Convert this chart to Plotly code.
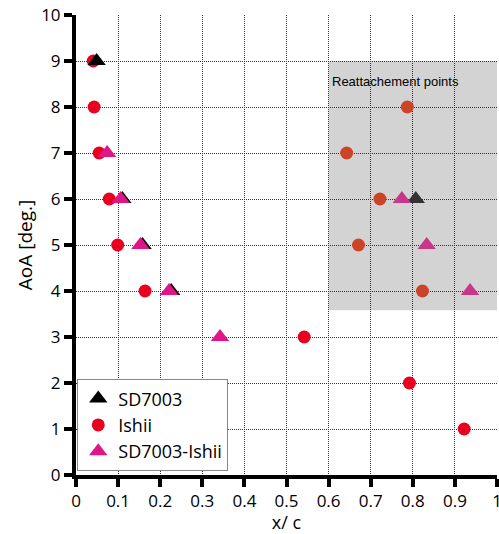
import plotly.graph_objects as go

# Data
# Separation points (white area)
sd7003_x = [0.049, 0.110, 0.158, 0.226]
sd7003_y = [9, 6, 5, 4]
ishii_x = [0.041, 0.043, 0.055, 0.079, 0.099, 0.164, 0.542, 0.792, 0.922]
ishii_y = [9, 8, 7, 6, 5, 4, 3, 2, 1]
sdi_x = [0.074, 0.106, 0.153, 0.221, 0.342]
sdi_y = [7, 6, 5, 4, 3]

# Reattachment points (grey box)
sd7003_re_x = [0.807]
sd7003_re_y = [6]
ishii_re_x = [0.787, 0.643, 0.722, 0.671, 0.823]
ishii_re_y = [8, 7, 6, 5, 4]
sdi_re_x = [0.774, 0.833, 0.936]
sdi_re_y = [6, 5, 4]

region_x = [0.6, 1.0]
region_y = [3.58, 9.0]
region_label = "Reattachement points"

x_ticks = [round(0.1 * i, 1) for i in range(11)]
x_ticktext = ["0"] + [f"{v:g}" for v in x_ticks[1:-1]] + ["1"]
y_ticks = list(range(11))

RED = "#e8001e"
PINK = "#e0158a"
RED_RE = "#cc4428"
PINK_RE = "#c8388a"
BLACK_RE = "#333333"
FONT = "Open Sans"

fig = go.Figure()
fig.add_shape(type="rect", xref="x", yref="y",
              x0=region_x[0], x1=region_x[1], y0=region_y[0], y1=region_y[1],
              fillcolor="#d3d3d3", line=dict(width=0), layer="below")

fig.add_trace(go.Scatter(x=ishii_x, y=ishii_y, mode="markers", name="Ishii",
                         marker=dict(symbol="circle", size=13, color=RED),
                         legendrank=2, cliponaxis=False))
fig.add_trace(go.Scatter(x=sd7003_x, y=sd7003_y, mode="markers", name="SD7003",
                         marker=dict(symbol="triangle-up", size=16, color="black"),
                         legendrank=1, cliponaxis=False))
fig.add_trace(go.Scatter(x=sdi_x, y=sdi_y, mode="markers", name="SD7003-Ishii",
                         marker=dict(symbol="triangle-up", size=16, color=PINK),
                         legendrank=3, cliponaxis=False))
fig.add_trace(go.Scatter(x=ishii_re_x, y=ishii_re_y, mode="markers", showlegend=False,
                         marker=dict(symbol="circle", size=13, color=RED_RE)))
fig.add_trace(go.Scatter(x=sd7003_re_x, y=sd7003_re_y, mode="markers", showlegend=False,
                         marker=dict(symbol="triangle-up", size=16, color=BLACK_RE)))
fig.add_trace(go.Scatter(x=sdi_re_x, y=sdi_re_y, mode="markers", showlegend=False,
                         marker=dict(symbol="triangle-up", size=16, color=PINK_RE)))

fig.add_annotation(x=region_x[0], y=8.55, xref="x", yref="y", text=region_label,
                   showarrow=False, xanchor="left", yanchor="middle", xshift=1,
                   font=dict(family="Liberation Sans", size=13, color="black"))

axis_common = dict(
    showline=True, linewidth=4, linecolor="black",
    ticks="outside", ticklen=8, tickwidth=4, tickcolor="black",
    showgrid=True, gridcolor="#333333", gridwidth=1, griddash="1px,1px",
    zeroline=False, tickfont=dict(family=FONT, size=17, color="black"),
    ticklabeloverflow="allow", automargin=False,
)

fig.update_xaxes(range=[0, 1], tickvals=x_ticks, ticktext=x_ticktext,
                 title=dict(text="x/ c", font=dict(family=FONT, size=18, color="black"),
                            standoff=0),
                 **axis_common)
fig.update_yaxes(range=[0, 10], tickvals=y_ticks,
                 title=dict(text="AoA [deg.]", font=dict(family=FONT, size=19, color="black"),
                            standoff=4),
                 **axis_common)

fig.update_layout(
    width=499, height=534,
    margin=dict(l=76, r=2, t=15, b=59, autoexpand=False),
    paper_bgcolor="white", plot_bgcolor="white",
    showlegend=True,
    legend=dict(x=0.003, y=0.008, xanchor="left", yanchor="bottom",
                bgcolor="white", bordercolor="#888888", borderwidth=1,
                font=dict(family=FONT, size=18, color="black"),
                itemwidth=30, tracegroupgap=0),
)

fig.write_html("out.html")
